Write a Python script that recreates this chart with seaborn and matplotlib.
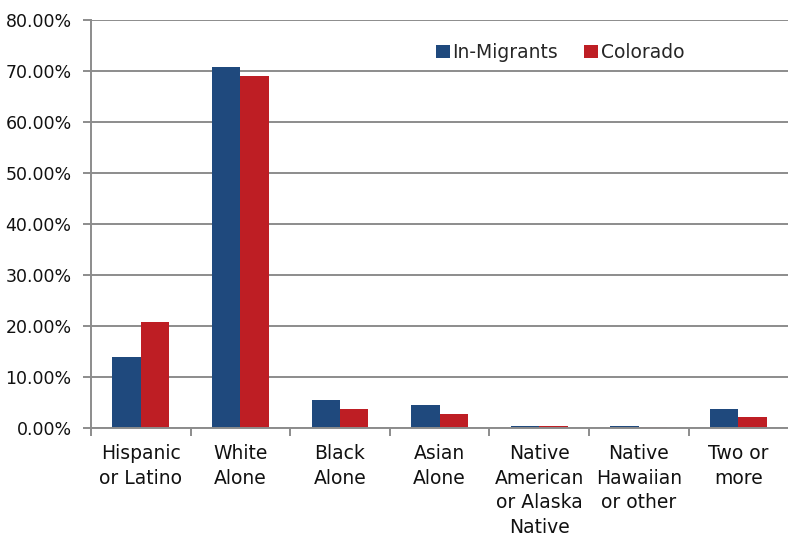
import matplotlib
matplotlib.use("Agg")
import matplotlib.pyplot as plt
from matplotlib.ticker import FixedLocator, FuncFormatter
import seaborn as sns
import pandas as pd

categories = ["Hispanic\nor Latino", "White\nAlone", "Black\nAlone", "Asian\nAlone",
              "Native\nAmerican\nor Alaska\nNative", "Native\nHawaiian\nor other", "Two or\nmore"]
in_migrants = [13.9, 70.7, 5.4, 4.5, 0.4, 0.4, 3.7]
colorado = [20.8, 69.1, 3.7, 2.7, 0.3, 0.2, 2.2]
series = ["In-Migrants", "Colorado"]
colors = ["#1F497D", "#BE1E24"]

df = pd.DataFrame({
    "category": categories * 2,
    "value": in_migrants + colorado,
    "series": [series[0]] * len(categories) + [series[1]] * len(categories),
})

sns.set_style("white")
plt.rcParams["font.family"] = ["DejaVu Sans"]

fig = plt.figure(figsize=(7.88, 5.37), dpi=100)
ax = fig.add_axes([91 / 788, (537 - 428) / 537, 1 - 91 / 788 + 0.004, (428 - 20) / 537])

sns.barplot(data=df, x="category", y="value", hue="series", palette=colors,
            width=0.57, gap=0, ax=ax, linewidth=0, saturation=1)

ax.set_ylim(0, 80)
ax.set_xlim(-0.5, 6.53)
ax.set_yticks(range(0, 81, 10))
ax.yaxis.set_major_formatter(FuncFormatter(lambda v, p: f"{v:.2f}%"))
ax.grid(axis="y", color="#8C8C8C", linewidth=1.4)
ax.set_axisbelow(True)
ax.set_xlabel("")
ax.set_ylabel("")

for side in ["top", "right"]:
    ax.spines[side].set_visible(False)
for side in ["left", "bottom"]:
    ax.spines[side].set_color("#8C8C8C")
    ax.spines[side].set_linewidth(1.4)

ax.tick_params(axis="y", which="major", left=True, length=6, width=1.4, color="#8C8C8C",
               labelsize=12.5, labelcolor="#111111", pad=8)
ax.tick_params(axis="x", which="major", bottom=False, labelsize=13.5, labelcolor="#111111", pad=8)
ax.xaxis.set_minor_locator(FixedLocator([i - 0.5 for i in range(len(categories))]))
ax.tick_params(axis="x", which="minor", bottom=True, length=6, width=1.4, color="#8C8C8C")
for lbl in ax.get_xticklabels():
    lbl.set_linespacing(1.37)

leg = ax.legend(loc="upper left", bbox_to_anchor=(0.468, 0.985), ncol=2, frameon=False,
                fontsize=13.5, handlelength=0.75, handleheight=0.75, handletextpad=0.16,
                columnspacing=1.35)

fig.savefig("out.png", dpi=100)
